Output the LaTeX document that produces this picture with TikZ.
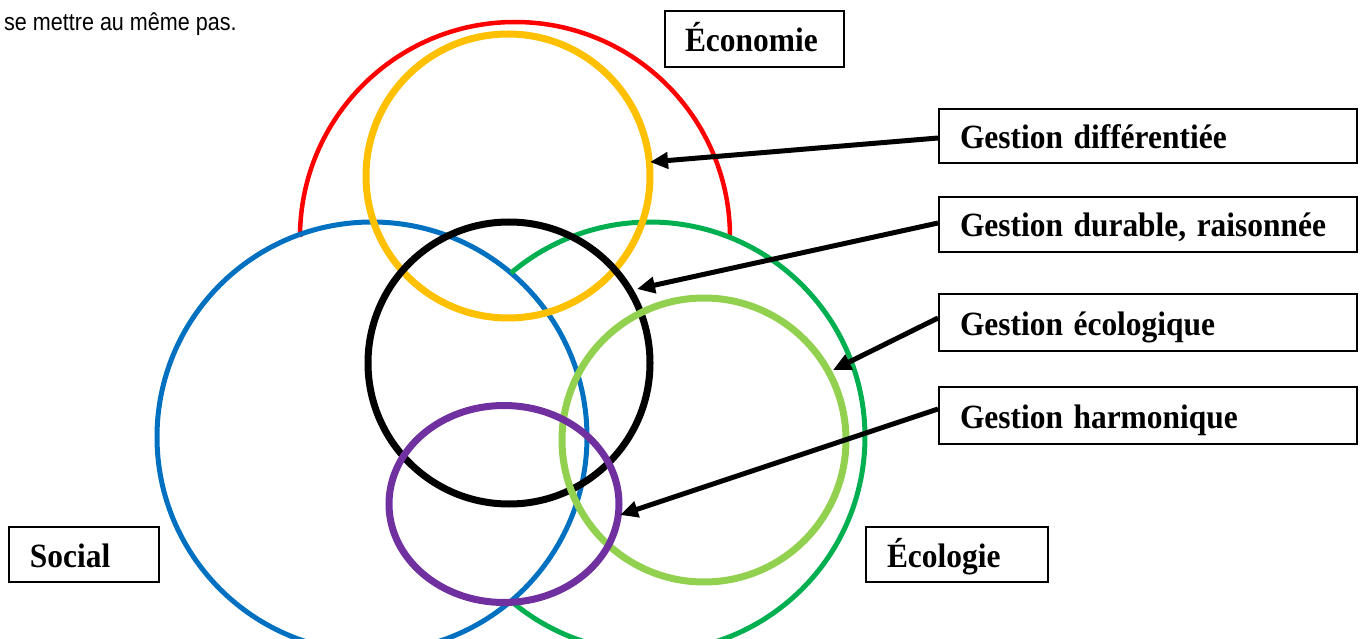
\documentclass[tikz,border=0pt]{standalone}
\usepackage{fontspec}
\usepackage{graphicx}
\setmainfont{Liberation Serif}
\newfontfamily\arialfont{Liberation Sans}
\usetikzlibrary{arrows.meta}
\definecolor{cred}{HTML}{FF0000}
\definecolor{cyellow}{HTML}{FFC000}
\definecolor{cblue}{HTML}{0070C0}
\definecolor{cgreen}{HTML}{00B050}
\definecolor{clgreen}{HTML}{92D050}
\definecolor{cpurple}{HTML}{7030A0}
\newcommand{\lbltxt}[1]{\scalebox{0.925}[1]{#1}}
\tikzset{
  labelbox/.style={draw, line width=2pt, anchor=north west, inner xsep=21pt, inner ysep=0pt,
    text height=28pt, text depth=3pt, align=left,
    font=\bfseries\fontsize{34}{38}\selectfont},
  ring/.style={line width=7pt},
  thinring/.style={line width=5pt},
  arr/.style={line width=5pt, -{Triangle[length=18pt,width=16pt]}}
}
\begin{document}
\begin{tikzpicture}[x=1pt,y=-1pt]
\useasboundingbox (0,0) rectangle (1361,639);
\clip (0,0) rectangle (1361,639);
% intro text
\node[anchor=base west, inner sep=0pt, xscale=0.88, font=\arialfont\fontsize{24.5}{28}\selectfont] (intro) at (4,31) {se mettre au même pas.};
% circles
\draw[cred, line width=4.5pt] (300,237) arc[start angle=180, end angle=360, radius=215];
\draw[cblue, thinring] (372,437) circle[radius=215];
\draw[cgreen, thinring] (650,437) ++(-130.3:215) arc[start angle=-130.3, end angle=130.3, radius=215];
\draw[cyellow, ring] (508,176) circle[radius=142];
\draw[black, ring] (509,363) circle[radius=141];
\draw[clgreen, ring] (704,440) circle[radius=142];
\draw[cpurple, ring] (504,504) ellipse[x radius=115, y radius=98.5];
% boxes
\node[labelbox, text width=139pt, inner xsep=20pt, minimum height=56pt] (econ) at (664,10) {\lbltxt{Économie}};
\node[labelbox, text width=376pt, minimum height=54pt] (gd) at (938,108) {\lbltxt{Gestion différentiée}};
\node[labelbox, text width=376pt, minimum height=55pt] (gdr) at (938,196) {\lbltxt{Gestion durable, raisonnée}};
\node[labelbox, text width=376pt, minimum height=57pt] (ge) at (938,293) {\lbltxt{Gestion écologique}};
\node[labelbox, text width=376pt, minimum height=57pt] (gh) at (938,386) {\lbltxt{Gestion harmonique}};
\node[labelbox, text width=108pt, minimum height=55pt] (social) at (8,526) {\lbltxt{Social}};
\node[labelbox, text width=140pt, minimum height=55pt] (ecol) at (865,526) {\lbltxt{Écologie}};
% arrow tips
\coordinate (t1) at (650,162);
\coordinate (t2) at (637,289);
\coordinate (t3) at (833,370);
\coordinate (t4) at (620,515);
\draw[arr] ([yshift=-2pt]gd.west) -- (t1);
\draw[arr] ([yshift=1.5pt]gdr.west) -- (t2);
\draw[arr] ([yshift=4.5pt]ge.west) -- (t3);
\draw[arr] ([yshift=6.5pt]gh.west) -- (t4);
\end{tikzpicture}
\end{document}
